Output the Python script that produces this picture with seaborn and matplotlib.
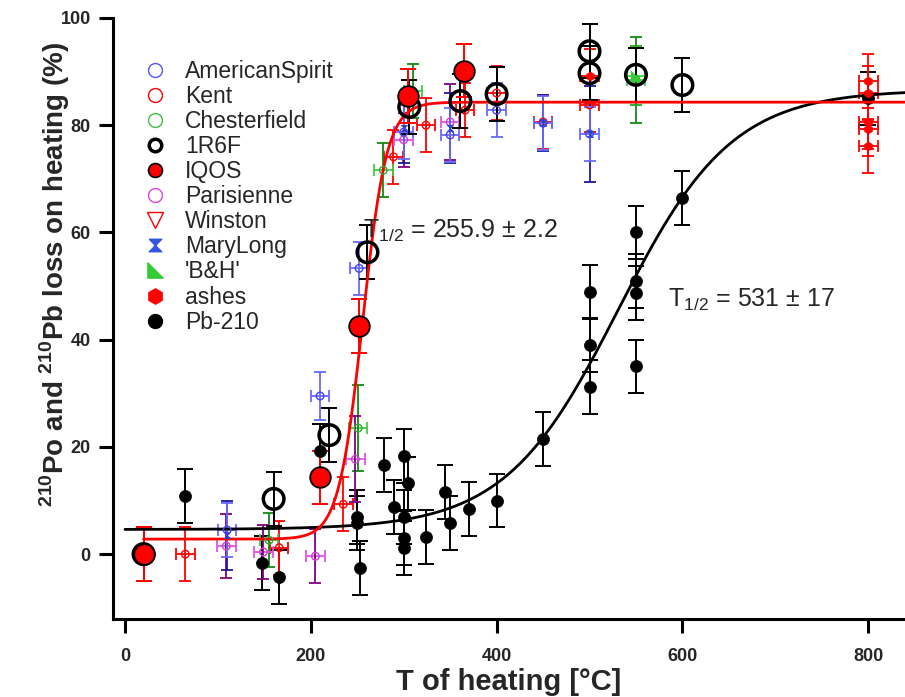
import numpy as np
import matplotlib
matplotlib.use("Agg")
import matplotlib.pyplot as plt
from matplotlib.lines import Line2D
import seaborn as sns

# ---- data ----
# Pb-210 (black dots)
pb_x = [65, 148, 166, 210, 250, 250, 253, 279, 290, 300, 300, 300, 300, 305, 324,
        344, 350, 370, 400, 450, 500, 500, 500, 550, 550, 550, 550, 600, 800]
pb_y = [10.8, -1.7, -4.3, 19.2, 6.9, 5.8, -2.6, 16.6, 8.8, 18.3, 6.9, 3.0, 1.1, 13.2, 3.2,
        11.6, 5.8, 8.4, 10.0, 21.5, 31.2, 39.0, 48.9, 60.0, 51.0, 48.7, 35.0, 66.4, 85.0]
pb_err = [5] * len(pb_x)

amer_x = [110, 210, 252, 300, 350, 400, 450, 500]
amer_y = [4.5, 29.5, 53.3, 78.7, 78.2, 82.8, 80.4, 78.4]
amer_yerr = [5, 4.5, 5, 5, 5, 5, 5, 5]

mary_x = [110, 300, 350, 450, 500]
mary_y = [3.5, 79.5, 79.5, 80.4, 78.4]
mary_yerr = [6.5, 6.5, 6.5, 5.3, 9.0]

kent_x = [65, 166, 235, 289, 324, 366, 400, 450, 500]
kent_y = [0.0, 1.2, 9.3, 74.1, 80.0, 82.8, 86.0, 80.6, 83.8]
kent_yerr = [5, 5, 5, 5, 5, 5, 5, 5, 5]

chest_x = [155, 251, 278, 310, 550]
chest_y = [2.6, 23.5, 71.6, 86.4, 88.5]
chest_yerr = [5, 8, 5, 5, 8]

paris_x = [109, 149, 205, 248, 300, 350]
paris_y = [1.5, 0.4, -0.4, 17.7, 77.3, 80.6]
paris_yerr = [6, 5, 5, 8, 5, 7]

r6f_x = [20, 160, 220, 261, 306, 361, 400, 500, 500, 550, 600]
r6f_y = [0.0, 10.3, 22.2, 56.3, 83.4, 84.5, 85.8, 93.8, 89.7, 89.4, 87.5]
r6f_yerr = [5] * len(r6f_x)

iqos_x = [20, 210, 252, 305, 365]
iqos_y = [0.0, 14.3, 42.6, 85.4, 90.2]
iqos_yerr = [5, 5, 5, 5, 5]

winston_x = [20]
winston_y = [0.0]

bh_x = [550]
bh_y = [89.2]

ash_x = [500, 800, 800, 800, 800, 800]
ash_y = [89.2, 88.2, 86.0, 80.6, 79.3, 76.1]
ash_yerr = [5, 5, 5, 5, 5, 5]

# sigmoid fit parameters (from the plot)
fit_red = dict(a1=2.8, a2=84.3, x0=255.9, w=13.0)
fit_black = dict(a1=4.6, a2=86.6, x0=531.0, w=61.0)

sns.set_style("ticks")
plt.rcParams["font.family"] = ["Liberation Sans", "DejaVu Sans"]
plt.rcParams["mathtext.fontset"] = "custom"
plt.rcParams["mathtext.rm"] = "Liberation Sans"
plt.rcParams["mathtext.bf"] = "Liberation Sans:bold"

fig = plt.figure(figsize=(9.05, 6.97), dpi=100)
ax = fig.add_axes([113 / 905, 1 - 619 / 697, 1 - 113 / 905, (619 - 18) / 697])

hourglass = [(-1, 1), (1, 1), (-1, -1), (1, -1), (-1, 1)]
rtri = [(-1, 1), (-1, -1), (1, -1), (-1, 1)]


def sigmoid(x, a1, a2, x0, w):
    return a1 + (a2 - a1) / (1 + np.exp((x0 - x) / w))


def bars(x, y, yerr, ycol, xerr=None, xcol=None, cap=4, lw=1.3):
    if xerr is not None:
        ax.errorbar(x, y, xerr=xerr, fmt="none", ecolor=xcol, elinewidth=lw,
                    capsize=cap, capthick=lw, zorder=2)
    ax.errorbar(x, y, yerr=yerr, fmt="none", ecolor=ycol, elinewidth=lw,
                capsize=cap, capthick=lw, zorder=2)


# Pb-210 series
bars(pb_x, pb_y, pb_err, "black", cap=6, lw=1.4)
sns.scatterplot(x=pb_x, y=pb_y, marker="o", s=75, color="black", edgecolor="black",
                linewidth=0.5, ax=ax, legend=False, zorder=3)

# fit curves
xb = np.linspace(0, 845, 400)
ax.plot(xb, sigmoid(xb, **fit_black), color="black", lw=2, zorder=4)
xr = np.linspace(20, 845, 400)
ax.plot(xr, sigmoid(xr, **fit_red), color="red", lw=2, zorder=4)

# cigarette series
bars(kent_x, kent_y, kent_yerr, "red", xerr=10, xcol="red")
sns.scatterplot(x=kent_x, y=kent_y, marker="o", s=30, facecolor="none", edgecolor="red",
                linewidth=1, ax=ax, legend=False, zorder=5)

bars(chest_x, chest_y, chest_yerr, "#118811", xerr=10, xcol="#44cc44")
sns.scatterplot(x=chest_x, y=chest_y, marker="o", s=30, facecolor="none", edgecolor="#33aa33",
                linewidth=1, ax=ax, legend=False, zorder=5)

bars(paris_x, paris_y, paris_yerr, "#800080", xerr=10, xcol="#e055e0")
sns.scatterplot(x=paris_x, y=paris_y, marker="o", s=30, facecolor="none", edgecolor="#d040d0",
                linewidth=1, ax=ax, legend=False, zorder=5)

bars(mary_x, mary_y, mary_yerr, "#1a1a99")
sns.scatterplot(x=mary_x, y=mary_y, marker=hourglass, s=20, color="#2244cc", edgecolor="#2244cc",
                linewidth=0.5, ax=ax, legend=False, zorder=5)

bars(amer_x, amer_y, amer_yerr, "#6a6aff", xerr=10, xcol="#6a6aff")
sns.scatterplot(x=amer_x, y=amer_y, marker="o", s=30, facecolor="none", edgecolor="#4444ee",
                linewidth=1, ax=ax, legend=False, zorder=5)

bars(ash_x, ash_y, ash_yerr, "red", xerr=10, xcol="red")
sns.scatterplot(x=ash_x, y=ash_y, marker="h", s=40, color="red", edgecolor="red",
                linewidth=0.5, ax=ax, legend=False, zorder=5)

bars(bh_x, bh_y, [5.5], "#22aa22", xerr=10, xcol="#33dd33")
sns.scatterplot(x=bh_x, y=bh_y, marker=rtri, s=60, color="#33cc33", edgecolor="#33cc33",
                linewidth=0.5, ax=ax, legend=False, zorder=5)

sns.scatterplot(x=winston_x, y=winston_y, marker="v", s=40, facecolor="none", edgecolor="red",
                linewidth=1, ax=ax, legend=False, zorder=5)

bars(r6f_x, r6f_y, r6f_yerr, "black", cap=6, lw=1.4)
sns.scatterplot(x=r6f_x, y=r6f_y, marker="o", s=220, facecolor="none", edgecolor="black",
                linewidth=2.5, ax=ax, legend=False, zorder=6)

bars(iqos_x, iqos_y, iqos_yerr, "red", cap=6, lw=1.4)
sns.scatterplot(x=iqos_x, y=iqos_y, marker="o", s=220, color="red", edgecolor="black",
                linewidth=1.3, ax=ax, legend=False, zorder=7)

# annotations
ax.text(256, 60.3, r"T$_{1/2}$ = 255.9 ± 2.2", fontsize=18, ha="left", va="center", zorder=10)
ax.text(584, 47.4, r"T$_{1/2}$ = 531 ± 17", fontsize=18, ha="left", va="center", zorder=10)

# axes styling
ax.set_xlim(-12.9, 839.6)
ax.set_ylim(-12.1, 100)
ax.set_xticks([0, 200, 400, 600, 800])
ax.set_yticks([0, 20, 40, 60, 80, 100])
for s in ["top", "right"]:
    ax.spines[s].set_visible(False)
for s in ["left", "bottom"]:
    ax.spines[s].set_linewidth(2.2)
    ax.spines[s].set_color("black")
ax.tick_params(axis="both", length=10, width=2.2, color="black", labelsize=13)
ax.tick_params(axis="x", pad=11)
ax.tick_params(axis="y", pad=6)
for lab in ax.get_xticklabels() + ax.get_yticklabels():
    lab.set_fontweight("bold")

ax.set_xlabel("T of heating [°C]", fontsize=21, fontweight="bold", labelpad=2)
ax.set_ylabel(r"$^{\mathbf{210}}$Po and $^{\mathbf{210}}$Pb loss on heating (%)",
              fontsize=20, fontweight="bold")
ax.yaxis.set_label_coords(-0.052, 0.574)

# legend
handles = [
    Line2D([], [], ls="none", marker="o", ms=10, mfc="none", mec="#5555ff", mew=1),
    Line2D([], [], ls="none", marker="o", ms=10, mfc="none", mec="red", mew=1),
    Line2D([], [], ls="none", marker="o", ms=10, mfc="none", mec="#44bb44", mew=1),
    Line2D([], [], ls="none", marker="o", ms=9, mfc="none", mec="black", mew=2.5),
    Line2D([], [], ls="none", marker="o", ms=10, mfc="red", mec="black", mew=1.2),
    Line2D([], [], ls="none", marker="o", ms=10, mfc="none", mec="#dd44dd", mew=1),
    Line2D([], [], ls="none", marker="v", ms=11, mfc="none", mec="red", mew=1),
    Line2D([], [], ls="none", marker=hourglass, ms=9, mfc="#3355dd", mec="#3355dd", mew=1),
    Line2D([], [], ls="none", marker=rtri, ms=11, mfc="#33cc33", mec="#33cc33", mew=1),
    Line2D([], [], ls="none", marker="h", ms=11, mfc="red", mec="red", mew=1),
    Line2D([], [], ls="none", marker="o", ms=10, mfc="black", mec="black", mew=1),
]
labels = ["AmericanSpirit", "Kent", "Chesterfield", "1R6F", "IQOS", "Parisienne",
          "Winston", "MaryLong", "'B&H'", "ashes", "Pb-210"]
ax.legend(handles, labels, loc="upper left", bbox_to_anchor=(141 / 905, 1 - 60 / 697),
          bbox_transform=fig.transFigure, frameon=False, fontsize=16.5,
          handlelength=1.2, handletextpad=0.72, labelspacing=0.09,
          borderpad=0, borderaxespad=0)

fig.savefig("out.png", dpi=100)
